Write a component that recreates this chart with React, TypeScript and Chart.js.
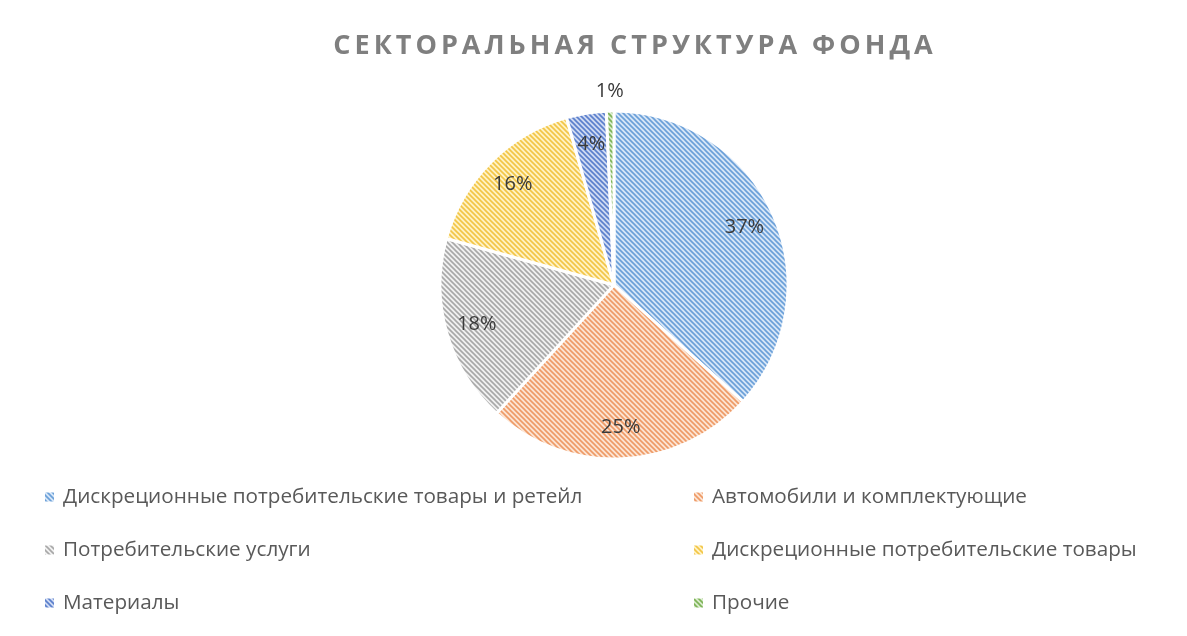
import React, { useEffect, useRef } from "react";
import { Chart, registerables } from "chart.js";
Chart.register(...registerables);

const titleText = "СЕКТОРАЛЬНАЯ СТРУКТУРА ФОНДА";
const categories = [
  "Дискреционные потребительские товары и ретейл",
  "Автомобили и комплектующие",
  "Потребительские услуги",
  "Дискреционные потребительские товары",
  "Материалы",
  "Прочие",
];
const shares = [36.7, 25.1, 17.5, 16.3, 3.7, 0.7];
const lineColors = ["#6a9fd8", "#ee9a66", "#a8a8a8", "#f2c546", "#5a7fcc", "#7db356"];
const fillColors = ["#d6e6f7", "#fce4d3", "#f1f1f1", "#fff2c4", "#cfdaf2", "#d9ebcc"];

const FONT = "'Open Sans', 'Noto Sans', sans-serif";

function makePattern(ctx: CanvasRenderingContext2D, bg: string, fg: string) {
  const s = 5;
  const c = document.createElement("canvas");
  c.width = s;
  c.height = s;
  const g = c.getContext("2d")!;
  g.fillStyle = bg;
  g.fillRect(0, 0, s, s);
  g.strokeStyle = fg;
  g.lineWidth = 1.6;
  g.beginPath();
  g.moveTo(-1, -1);
  g.lineTo(s + 1, s + 1);
  g.moveTo(-1, s - 1);
  g.lineTo(1, s + 1);
  g.moveTo(s - 1, -1);
  g.lineTo(s + 1, 1);
  g.stroke();
  return ctx.createPattern(c, "repeat")!;
}

export default function App() {
  const ref = useRef<HTMLCanvasElement>(null);

  useEffect(() => {
    const canvas = ref.current!;
    const ctx0 = canvas.getContext("2d")!;
    const patterns = shares.map((_, i) => makePattern(ctx0, fillColors[i], lineColors[i]));
    const total = shares.reduce((a, b) => a + b, 0);

    const titlePlugin = {
      id: "spacedTitle",
      afterDraw(chart: any) {
        const ctx = chart.ctx as CanvasRenderingContext2D;
        ctx.save();
        ctx.font = `bold 27px ${FONT}`;
        (ctx as any).letterSpacing = "4px";
        ctx.fillStyle = "#7f7f7f";
        ctx.textAlign = "center";
        ctx.textBaseline = "middle";
        ctx.fillText(titleText, 633 + 2, 46);
        ctx.restore();
      },
    };

    const pctPlugin = {
      id: "pctLabels",
      afterDatasetsDraw(chart: any) {
        const ctx = chart.ctx as CanvasRenderingContext2D;
        const meta = chart.getDatasetMeta(0);
        ctx.save();
        ctx.font = `20px ${FONT}`;
        ctx.fillStyle = "#3a3a3a";
        ctx.textAlign = "center";
        ctx.textBaseline = "middle";
        meta.data.forEach((arc: any, i: number) => {
          const p = arc.getProps(["x", "y", "startAngle", "endAngle", "outerRadius"], true);
          const mid = (p.startAngle + p.endAngle) / 2;
          const pct = (shares[i] / total) * 100;
          const r = pct < 2 ? p.outerRadius + 20 : p.outerRadius * 0.82;
          ctx.fillText(`${Math.round(pct)}%`, p.x + Math.cos(mid) * r, p.y + Math.sin(mid) * r);
        });
        ctx.restore();
      },
    };

    const legendPlugin = {
      id: "gridLegend",
      afterDraw(chart: any) {
        const ctx = chart.ctx as CanvasRenderingContext2D;
        ctx.save();
        ctx.font = `20.7px ${FONT}`;
        ctx.textBaseline = "middle";
        ctx.textAlign = "left";
        (chart.data.labels as string[]).forEach((lab, i) => {
          const col = i % 2;
          const row = Math.floor(i / 2);
          const y = 497 + row * 53;
          const mx = col ? 694 : 45;
          const tx = col ? 712 : 63;
          ctx.fillStyle = patterns[i];
          ctx.fillRect(mx, y - 4.5, 9, 9);
          ctx.fillStyle = "#595959";
          ctx.fillText(lab, tx, y);
        });
        ctx.restore();
      },
    };

    const chart = new Chart(canvas, {
      type: "pie",
      data: {
        labels: categories,
        datasets: [
          {
            data: shares,
            backgroundColor: patterns,
            borderColor: "#ffffff",
            borderWidth: 3,
            hoverOffset: 0,
          },
        ],
      },
      options: {
        responsive: false,
        animation: false,
        devicePixelRatio: 1,
        radius: 174,
        layout: { padding: { left: 241, right: 200, top: 100, bottom: 166 } },
        plugins: {
          legend: { display: false },
          title: { display: false },
          tooltip: { enabled: false },
        },
      } as any,
      plugins: [titlePlugin, pctPlugin, legendPlugin],
    });
    return () => chart.destroy();
  }, []);

  return (
    <div style={{ position: "fixed", left: 0, top: 0, width: 1187, height: 636, background: "#fff" }}>
      <canvas ref={ref} width={1187} height={636} style={{ display: "block" }} />
    </div>
  );
}
